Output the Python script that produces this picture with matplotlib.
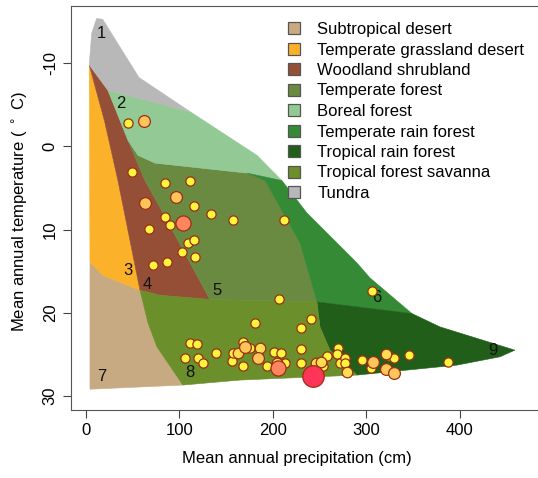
import numpy as np
import matplotlib.pyplot as plt
from matplotlib.lines import Line2D

plt.rcParams['font.family'] = ['Liberation Sans', 'DejaVu Sans']
plt.rcParams['axes.unicode_minus'] = False

# ------------------------------------------------------------
# Biome polygons (precipitation cm, temperature C)
# ------------------------------------------------------------
biome_names = ['Subtropical desert', 'Temperate grassland desert',
               'Woodland shrubland', 'Temperate forest', 'Boreal forest',
               'Temperate rain forest', 'Tropical rain forest',
               'Tropical forest savanna', 'Tundra']
biome_colors = ['#C8AA82', '#FBB22A', '#964F37', '#6A8A42', '#93C994',
                '#358A36', '#215E1A', '#6B8F2A', '#B8B8B8']

desert_p = [4.3, 18.2, 57.8, 66.3, 75.9, 103.7, 4.3]
desert_t = [13.9, 15.5, 17.3, 21.2, 24.1, 28.7, 29.2]

grass_p = [3.5, 20.0, 34.2, 57.8, 18.2, 4.3]
grass_t = [-9.8, -3.0, 4.1, 17.3, 15.5, 13.9]

wood_p = [3.5, 23.5, 44.9, 63.1, 79.1, 132.6, 79.1, 57.8, 34.2, 20.0]
wood_t = [-9.8, -6.75, -0.75, 4.1, 7.3, 18.4, 17.9, 17.3, 4.1, -3.0]

tempf_p = [44.9, 55.6, 73.8, 172.2, 191.4, 228.9, 247.1, 132.6, 79.1, 63.1]
tempf_t = [-0.75, 1.06, 2.0, 3.2, 4.1, 11.6, 18.7, 18.4, 7.3, 4.1]

boreal_p = [23.5, 111.2, 182.9, 209.6, 172.2, 73.8, 55.6, 44.9]
boreal_t = [-6.75, -4.2, 1.06, 4.1, 3.2, 2.0, 1.06, -0.75]

trf_p = [172.2, 209.6, 236.4, 289.8, 303.7, 348.7, 247.1, 228.9, 191.4]
trf_t = [3.2, 4.1, 8.0, 14.0, 15.8, 20.1, 18.7, 11.6, 4.1]

tropr_p = [247.1, 348.7, 378.6, 458.8, 442.8, 396.8, 289.8, 261.0, 250.3]
tropr_t = [18.7, 20.1, 21.7, 24.5, 25.3, 26.3, 27.5, 24.5, 21.7]

sav_p = [57.8, 79.1, 132.6, 247.1, 250.3, 261.0, 289.8, 164.7, 103.7, 75.9, 66.3]
sav_t = [17.3, 17.9, 18.4, 18.7, 21.7, 24.5, 27.5, 28.1, 28.7, 24.1, 21.2]

tundra_p = [11.4, 17.9, 56.7, 111.2, 23.5, 3.5, 6.1]
tundra_t = [-15.4, -15.3, -8.3, -4.2, -6.75, -9.8, -13.6]

biome_p = [desert_p, grass_p, wood_p, tempf_p, boreal_p, trf_p, tropr_p, sav_p, tundra_p]
biome_t = [desert_t, grass_t, wood_t, tempf_t, boreal_t, trf_t, tropr_t, sav_t, tundra_t]

# biome number labels
lab_num = ['1', '2', '3', '4', '5', '6', '7', '8', '9']
lab_p = [16.0, 37.4, 44.9, 65.2, 140.1, 311.2, 17.1, 111.2, 435.3]
lab_t = [-13.6, -5.15, 14.95, 16.6, 17.35, 18.2, 27.7, 27.2, 24.6]

# ------------------------------------------------------------
# Sites: precipitation, temperature, count class (1..5)
# ------------------------------------------------------------
site_p = [45.2, 62.0, 49.2, 84.5, 111.8, 96.5, 63.4, 115.8, 133.7, 157.5,
          211.8, 84.5, 103.4, 67.6, 90.1, 109.1, 115.5, 103.0, 116.3, 72.2,
          86.3, 206.7, 306.2, 180.4, 240.4, 229.9, 111.2, 118.4, 105.9, 120.1,
          125.7, 139.0, 156.7, 157.5, 162.9, 168.4, 170.6, 168.2, 175.4, 186.1,
          184.3, 193.9, 201.4, 208.2, 205.7, 204.6, 212.8, 229.6, 229.6, 242.5,
          246.5, 251.3, 254.0, 258.3, 269.8, 268.7, 271.7, 277.0, 277.0, 279.5,
          294.9, 306.6, 304.5, 320.9, 324.4, 329.4, 320.9, 329.4, 345.8, 386.8]
site_t = [-2.8, -3.1, 3.1, 4.4, 4.1, 6.1, 6.8, 7.1, 8.1, 8.8,
          8.8, 8.5, 9.2, 9.9, 9.5, 11.6, 11.3, 12.7, 13.3, 14.2,
          13.9, 18.4, 17.35, 21.2, 20.8, 21.8, 23.6, 23.8, 25.5, 25.45,
          26.0, 24.9, 25.8, 24.85, 24.8, 23.5, 24.1, 26.4, 24.2, 24.25,
          25.4, 26.4, 24.7, 24.8, 26.6, 26.0, 26.1, 24.4, 26.05, 27.6,
          26.1, 25.96, 26.4, 25.2, 24.2, 25.0, 26.0, 25.5, 26.1, 27.1,
          25.7, 25.9, 26.7, 25.0, 25.2, 25.4, 26.8, 27.2, 25.05, 25.9]
site_n = [1, 3, 1, 1, 1, 3, 3, 1, 1, 1,
          1, 1, 4, 1, 1, 1, 1, 1, 1, 1,
          1, 1, 1, 1, 1, 1, 1, 1, 1, 1,
          1, 1, 1, 1, 2, 1, 3, 1, 1, 2,
          3, 1, 1, 1, 4, 2, 1, 1, 1, 5,
          2, 2, 1, 1, 1, 1, 1, 1, 1, 2,
          1, 3, 1, 2, 1, 1, 3, 3, 1, 1]

class_color = {1: '#FFF53C', 2: '#FFDC50', 3: '#FFC45A', 4: '#FF8560', 5: '#FF3558'}
class_size = {1: 44, 2: 58, 3: 72, 4: 118, 5: 240}

# ------------------------------------------------------------
# Figure
# ------------------------------------------------------------
fig = plt.figure(figsize=(5.38, 4.78), dpi=100)
ax = fig.add_axes([71 / 538, 68 / 478, 474 / 538, 404 / 478])

for p, t, c in zip(biome_p, biome_t, biome_colors):
    ax.fill(p, t, facecolor=c, edgecolor=c, linewidth=0.4, zorder=1)

for n, p, t in zip(lab_num, lab_p, lab_t):
    ax.text(p, t, n, fontsize=12, ha='center', va='center', color='#111111', zorder=2)

order = np.argsort(site_n, kind='stable')
for i in order:
    k = site_n[i]
    ax.scatter(site_p[i], site_t[i], s=class_size[k], c=class_color[k],
               edgecolors='#9A2E14', linewidths=0.9, zorder=3)

ax.set_xlim(-16, 491)
ax.set_ylim(31.7, -16.9)
ax.set_xticks([0, 100, 200, 300, 400])
ax.set_yticks([-10, 0, 10, 20, 30])
for lbl in ax.get_yticklabels():
    lbl.set_rotation(90)
    lbl.set_va('center')
ax.tick_params(axis='both', length=5.5, width=0.8, color='#444444',
               labelsize=12, pad=4)
for s in ax.spines.values():
    s.set_color('#555555')
    s.set_linewidth(0.8)

fig.text(297 / 538, 1 - 458 / 478, 'Mean annual precipitation (cm)',
         ha='center', va='center', fontsize=12)
fig.text(20 / 538, 1 - 212 / 478, r'Mean annual temperature ( $^\circ$ C)',
         ha='center', va='center', rotation=90, fontsize=12)

handles = [Line2D([], [], marker='s', linestyle='none', markersize=8,
                  markerfacecolor=c, markeredgecolor='#555555', markeredgewidth=0.9)
           for c in biome_colors]
ax.legend(handles, biome_names, loc='upper left', frameon=False,
          bbox_to_anchor=(284 / 538, 1 - 22 / 478), bbox_transform=fig.transFigure,
          fontsize=12, labelspacing=0.33, handletextpad=0.8, handlelength=1.2,
          borderpad=0, borderaxespad=0)

fig.savefig('out.png', dpi=100)
